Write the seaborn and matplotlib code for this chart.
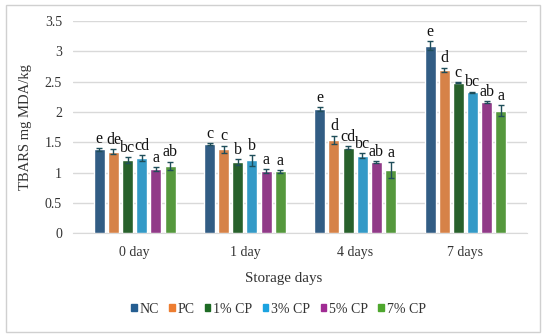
import matplotlib
matplotlib.use("Agg")
import matplotlib.pyplot as plt
import matplotlib.patches as mpatches
import seaborn as sns
import numpy as np
import pandas as pd

# ─── Data ────────────────────────────────────────────────────────────────
DAYS = ['0 day', '1 day', '4 days', '7 days']
TREATMENTS = ['NC', 'PC', '1% CP', '3% CP', '5% CP', '7% CP']
COLORS = ['#255E91', '#ED7D31', '#1E6B24', '#1BA3E0', '#A02B93', '#4EA72E']

# TBARS means per treatment, across DAYS
NC = [1.38, 1.47, 2.05, 3.09]
PC = [1.34, 1.38, 1.54, 2.69]
CP1 = [1.20, 1.17, 1.41, 2.48]
CP3 = [1.24, 1.20, 1.28, 2.32]
CP5 = [1.06, 1.02, 1.17, 2.16]
CP7 = [1.11, 1.02, 1.04, 2.02]

# standard deviations
NC_SD = [0.02, 0.01, 0.03, 0.07]
PC_SD = [0.04, 0.06, 0.07, 0.04]
CP1_SD = [0.05, 0.05, 0.02, 0.01]
CP3_SD = [0.05, 0.09, 0.04, 0.01]
CP5_SD = [0.03, 0.03, 0.02, 0.02]
CP7_SD = [0.07, 0.02, 0.13, 0.09]

# significance letters
NC_LET = ['e', 'c', 'e', 'e']
PC_LET = ['de', 'c', 'd', 'd']
CP1_LET = ['bc', 'b', 'cd', 'c']
CP3_LET = ['cd', 'b', 'bc', 'bc']
CP5_LET = ['a', 'a', 'ab', 'ab']
CP7_LET = ['ab', 'a', 'a', 'a']

means = [NC, PC, CP1, CP3, CP5, CP7]
sds = [NC_SD, PC_SD, CP1_SD, CP3_SD, CP5_SD, CP7_SD]
letters = [NC_LET, PC_LET, CP1_LET, CP3_LET, CP5_LET, CP7_LET]

df = pd.DataFrame([
    {'day': d, 'treatment': t, 'tbars': means[ti][di]}
    for ti, t in enumerate(TREATMENTS) for di, d in enumerate(DAYS)
])

# ─── Style ───────────────────────────────────────────────────────────────
sns.set_style('white')
plt.rcParams['font.family'] = ['Liberation Serif', 'DejaVu Serif']

fig = plt.figure(figsize=(5.5, 3.36), dpi=100)
ax = fig.add_axes([0.133, 0.306, 0.825, 0.632])

sns.barplot(data=df, x='day', y='tbars', hue='treatment', order=DAYS,
            hue_order=TREATMENTS, palette=COLORS, width=0.77, gap=0.22,
            errorbar=None, legend=False, ax=ax, zorder=3)

# error bars + letters from the bar patches
bar_containers = list(ax.containers)
for ti, cont in enumerate(bar_containers):
    for di, bar in enumerate(cont):
        cx = bar.get_x() + bar.get_width() / 2
        top = bar.get_height()
        ax.errorbar(cx, top, yerr=sds[ti][di], fmt='none', ecolor='#1F4E5A',
                    elinewidth=1.0, capsize=2.5, capthick=1.0, zorder=4)
        ax.annotate(letters[ti][di], xy=(cx, top + sds[ti][di]),
                    xytext=(0, 1), textcoords='offset points',
                    ha='center', va='bottom', fontsize=11.5, color='#111111')

ax.set_ylim(0, 3.5)
ax.set_yticks(np.arange(0, 3.51, 0.5))
ax.set_yticklabels(['0', '0.5', '1', '1.5', '2', '2.5', '3', '3.5'])
ax.yaxis.grid(True, color='#D9D9D9', linewidth=1.0, zorder=0)
ax.set_axisbelow(True)
for s in ['top', 'right', 'left']:
    ax.spines[s].set_visible(False)
ax.spines['bottom'].set_color('#D9D9D9')
ax.tick_params(axis='both', length=0, labelsize=10, colors='#333333')
ax.tick_params(axis='x', pad=9)
ax.tick_params(axis='y', pad=8)
ax.set_xlabel('')
ax.set_ylabel('TBARS mg MDA/kg', fontsize=10.5, color='#333333', labelpad=9)

fig.text(0.515, 0.172, 'Storage days', ha='center', va='center',
         fontsize=10.8, color='#333333')

handles = [mpatches.Patch(color=c, label=t) for c, t in zip(COLORS, TREATMENTS)]
fig.legend(handles=handles, loc='center', bbox_to_anchor=(0.506, 0.08),
           ncol=6, frameon=False, fontsize=10, handlelength=0.4,
           handleheight=0.4, handletextpad=0.2, columnspacing=0.75,
           labelcolor='#333333')

# chart border
fig.patches.append(mpatches.Rectangle((0.01, 0.012), 0.972, 0.972,
                                      transform=fig.transFigure, fill=False,
                                      edgecolor='#D0D0D0', linewidth=1.0))

fig.savefig('out.png', dpi=100)
